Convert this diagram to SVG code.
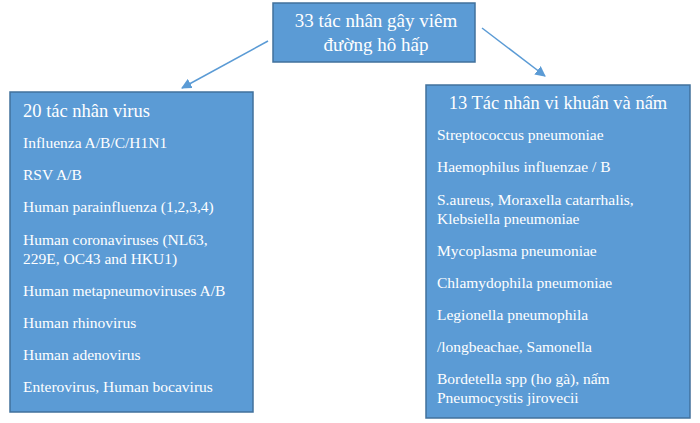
<svg xmlns="http://www.w3.org/2000/svg" width="700" height="423" viewBox="0 0 700 423">
<defs>
<style>
.box{fill:#5b9bd5;stroke:#41719c;stroke-width:1.5}
.t{font-family:"Liberation Serif",serif;fill:#fff}
.h{font-size:18.5px}
.i{font-size:15.5px}
.c{stroke:#5b9bd5;stroke-width:1.5;fill:none}
</style>
<marker id="a" viewBox="0 0 10 10" refX="9" refY="5" markerWidth="7" markerHeight="7" orient="auto"><path d="M0,0L10,5L0,10z" fill="#5b9bd5"/></marker>
</defs>
<g id="conn">
<line class="c" x1="268" y1="41" x2="182" y2="88" marker-end="url(#a)"/>
<line class="c" x1="482" y1="28" x2="545" y2="76" marker-end="url(#a)"/>
</g>
<g id="top">
<rect class="box" x="273" y="3" width="202" height="59"/>
<text class="t" style="font-size:19px" x="376" y="27" text-anchor="middle">33 tác nhân gây viêm</text>
<text class="t" style="font-size:19px" x="376" y="51" text-anchor="middle">đường hô hấp</text>
</g>
<g id="virus">
<rect class="box" x="10" y="92" width="243" height="320"/>
<text class="t h" x="23" y="117">20 tác nhân virus</text>
<g class="t i">
<text x="23" y="148">Influenza A/B/C/H1N1</text>
<text x="23" y="180">RSV A/B</text>
<text x="23" y="212">Human parainfluenza (1,2,3,4)</text>
<text x="23" y="245">Human coronaviruses (NL63,</text>
<text x="23" y="264">229E, OC43 and HKU1)</text>
<text x="23" y="296">Human metapneumoviruses A/B</text>
<text x="23" y="328">Human rhinovirus</text>
<text x="23" y="360">Human adenovirus</text>
<text x="23" y="392">Enterovirus, Human bocavirus</text>
</g>
</g>
<g id="bact">
<rect class="box" x="426" y="85" width="264" height="333"/>
<text class="t h" x="558" y="109" text-anchor="middle">13 Tác nhân vi khuẩn và nấm</text>
<g class="t i">
<text x="437" y="140">Streptococcus pneumoniae</text>
<text x="437" y="172">Haemophilus influenzae / B</text>
<text x="437" y="205">S.aureus, Moraxella catarrhalis,</text>
<text x="437" y="224">Klebsiella pneumoniae</text>
<text x="437" y="256">Mycoplasma pneumoniae</text>
<text x="437" y="288">Chlamydophila pneumoniae</text>
<text x="437" y="320">Legionella pneumophila</text>
<text x="437" y="352">/longbeachae, Samonella</text>
<text x="437" y="384">Bordetella spp (ho gà), nấm</text>
<text x="437" y="403">Pneumocystis jirovecii</text>
</g>
</g>
</svg>
